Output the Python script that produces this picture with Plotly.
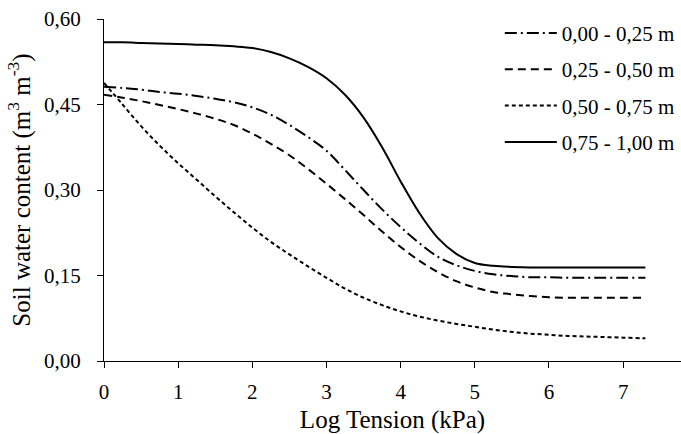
import plotly.graph_objects as go

# Log tension (kPa)
log_tension = [0, 0.25, 0.5, 0.75, 1, 1.25, 1.5, 1.75, 2, 2.25, 2.5, 2.75, 3, 3.25,
               3.5, 3.75, 4, 4.25, 4.5, 4.75, 5, 5.25, 5.5, 5.75, 6, 6.25, 6.5, 6.75,
               7, 7.25, 7.3]

depth_000_025 = [0.481, 0.479, 0.476, 0.472, 0.469, 0.465, 0.460, 0.454, 0.445, 0.432,
                 0.414, 0.393, 0.369, 0.335, 0.300, 0.266, 0.235, 0.207, 0.183, 0.168,
                 0.158, 0.152, 0.149, 0.147, 0.147, 0.146, 0.146, 0.146, 0.146, 0.146,
                 0.146]
depth_025_050 = [0.467, 0.462, 0.456, 0.449, 0.442, 0.434, 0.425, 0.414, 0.399, 0.381,
                 0.361, 0.337, 0.311, 0.284, 0.256, 0.227, 0.200, 0.176, 0.156, 0.140,
                 0.129, 0.121, 0.117, 0.114, 0.112, 0.111, 0.111, 0.111, 0.111, 0.111,
                 0.111]
depth_050_075 = [0.488, 0.450, 0.412, 0.378, 0.347, 0.318, 0.289, 0.261, 0.234, 0.209,
                 0.187, 0.166, 0.146, 0.127, 0.111, 0.098, 0.087, 0.078, 0.071, 0.065,
                 0.060, 0.055, 0.051, 0.048, 0.046, 0.044, 0.043, 0.042, 0.041, 0.040,
                 0.040]
depth_075_100 = [0.559, 0.559, 0.558, 0.557, 0.556, 0.555, 0.554, 0.552, 0.549, 0.542,
                 0.531, 0.516, 0.496, 0.467, 0.427, 0.375, 0.315, 0.260, 0.216, 0.188,
                 0.172, 0.167, 0.165, 0.164, 0.164, 0.164, 0.164, 0.164, 0.164, 0.164,
                 0.164]

series_names = ["0,00 - 0,25 m", "0,25 - 0,50 m", "0,50 - 0,75 m", "0,75 - 1,00 m"]
series_values = [depth_000_025, depth_025_050, depth_050_075, depth_075_100]
dash_styles = ["12px,4px,2px,4px", "8px,5px", "4px,3px", "solid"]

x_tick_vals = [0, 1, 2, 3, 4, 5, 6, 7]
x_tick_text = ["0", "1", "2", "3", "4", "5", "6", "7"]
y_tick_vals = [0, 0.15, 0.30, 0.45, 0.60]
y_tick_text = ["0,00", "0,15", "0,30", "0,45", "0,60"]

FONT = "Times New Roman"

fig = go.Figure()
for i, (name, vals, dash) in enumerate(zip(series_names, series_values, dash_styles)):
    fig.add_trace(go.Scatter(
        x=log_tension, y=vals, name=name, mode="lines",
        line=dict(color="black", width=2, dash=dash, shape="spline", smoothing=1.0),
        legendgroup=f"g{i}",
    ))

fig.update_layout(
    width=681, height=434,
    margin=dict(l=104, r=0, t=19, b=73, autoexpand=False),
    paper_bgcolor="white", plot_bgcolor="white",
    font=dict(family=FONT, size=21, color="black"),
    showlegend=True,
    legend=dict(
        x=0.686, xanchor="left", y=1.018, yanchor="top",
        bgcolor="rgba(0,0,0,0)", borderwidth=0,
        font=dict(family=FONT, size=21, color="black"),
        tracegroupgap=6, traceorder="grouped", itemwidth=52,
    ),
    xaxis=dict(
        range=[0, 7.78], tickvals=x_tick_vals, ticktext=x_tick_text,
        showgrid=False, zeroline=False, showline=True, linecolor="black", linewidth=1,
        ticks="outside", ticklen=6, tickcolor="black", tickwidth=1,
        ticklabelstandoff=6, automargin=False,
        title=dict(text="Log Tension (kPa)", standoff=8),
    ),
    yaxis=dict(
        range=[0, 0.6], tickvals=y_tick_vals, ticktext=y_tick_text,
        showgrid=False, zeroline=False, showline=True, linecolor="black", linewidth=1,
        ticks="outside", ticklen=6, tickcolor="black", tickwidth=1,
        ticklabelstandoff=12, automargin=False,
        title=dict(text="Soil water content (m<sup>3</sup> m<sup>-3</sup>)", standoff=6),
    ),
)

fig.write_html("out.html", config={"displayModeBar": False},
               post_script="document.body.style.margin='0';")
